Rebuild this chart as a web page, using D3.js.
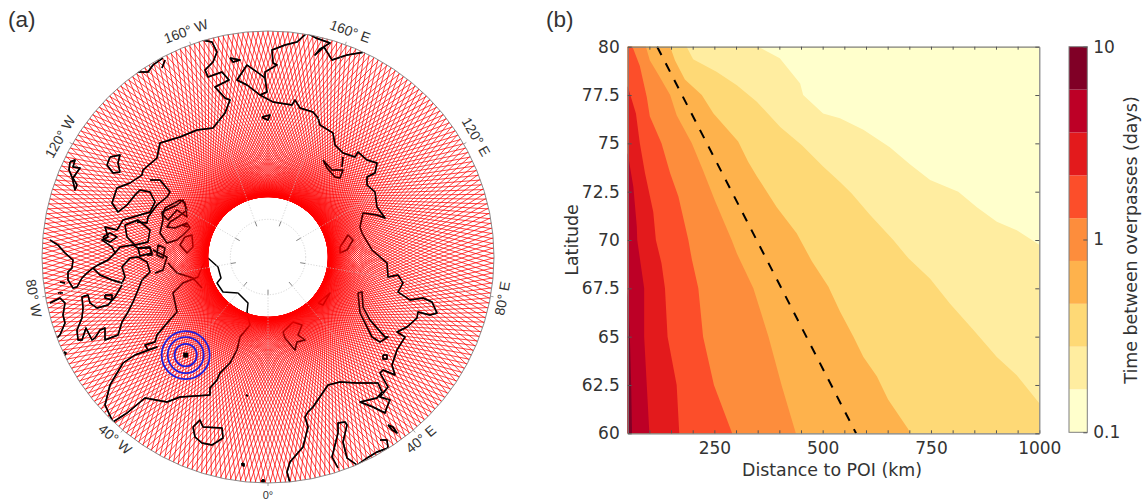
<!DOCTYPE html>
<html lang="en">
<head>
    <meta charset="utf-8" />
    <title>Overpass times</title>
    <style>
        body { margin: 0; background: #fff; }
        text { fill: #333; }
    </style>
</head>
<body>
<script src="https://d3js.org/d3.v7.min.js"></script>
<div id="chart"></div>
<script>
    // ---- panel (a) data: meridians, POI, and coastlines digitised on the polar grid
    // grid units are about 15 km, east and toward the 0 meridian measured from the pole
    const meridians = [0, 40, 80, 120, 160, -160, -120, -80, -40];
    const meridianLabels = ["0°", "40° E", "80° E", "120° E", "160° E", "160° W", "120° W", "80° W", "40° W"];
    const labelAngles = [0, -40, -80, 60, 20, -20, -60, 80, 40];
    const poi = {lon: -40, lat: 73};
    const ringKm = [165, 265, 355];
    const trackCount = 283;
    const trackLat = 82;

    const alaska = [[-66,-217],[-56,-215],[-51,-205],[-55,-195],[-63,-187],[-60,-180],[-46,-185],[-39,-177],[-53,-170],[-43,-159],[-38,-157],[-43,-144],[-55,-129],[-71,-127],[-88,-120],[-108,-114],[-111,-99],[-125,-87],[-126,-82],[-138,-74],[-151,-69],[-156,-54],[-150,-45],[-141,-52],[-133,-62],[-128,-67],[-118,-65],[-113,-55],[-118,-45],[-128,-42],[-145,-37],[-151,-27],[-163,-30],[-160,-20],[-166,-17],[-156,-10],[-153,-4],[-160,3],[-170,8],[-175,11],[-181,16],[-186,21],[-191,30],[-195,31],[-200,23],[-200,15],[-196,11],[-195,3],[-203,-4],[-210,-12],[-218,-17]];
    const hudson = [[-175,11],[-168,18],[-156,23],[-146,26],[-143,20],[-146,10],[-138,1],[-130,0],[-121,5],[-118,15],[-126,23],[-130,33],[-135,45],[-140,55],[-146,65],[-150,78],[-163,83],[-163,71],[-168,73],[-173,81],[-176,83],[-182,71],[-186,83],[-190,83],[-191,73],[-186,61],[-185,51],[-186,40],[-180,38],[-178,46],[-171,51],[-160,48],[-153,40],[-146,28]];
    const labrador = [[-218,46],[-208,41],[-203,46],[-205,58],[-203,66],[-208,78],[-211,81]];
    const baffin = [[-153,-4],[-148,-10],[-135,-12],[-130,-9],[-118,-10],[-116,-2],[-121,-2]];
    const greenland = [[-60,1],[-66,10],[-70,20],[-85,26],[-95,36],[-91,55],[-100,65],[-111,78],[-113,85],[-123,88],[-120,93],[-111,90],[-133,98],[-145,106],[-158,128],[-163,148],[-155,165],[-141,156],[-123,141],[-101,145],[-88,140],[-58,138],[-58,131],[-51,123],[-48,116],[-38,106],[-31,93],[-28,80],[-18,68],[-21,55],[-20,46],[-30,36],[-45,35],[-51,26],[-47,21],[-50,10],[-60,1]];
    const iceland = [[-75,170],[-68,163],[-65,170],[-46,171],[-45,181],[-56,188],[-66,186],[-73,180],[-75,170]];
    const chukotka = [[39,-224],[29,-215],[17,-212],[4,-207],[5,-194],[9,-192],[-3,-185],[-3,-179],[-1,-165],[-8,-162],[-21,-172],[-31,-177],[-21,-192],[-11,-185],[-3,-179]];
    const siberia = [[-8,-162],[5,-155],[24,-152],[27,-157],[32,-149],[45,-145],[50,-139],[52,-132],[65,-124],[67,-112],[75,-104],[87,-100],[90,-105],[99,-97],[109,-94],[107,-84],[99,-80],[99,-72],[107,-65],[109,-50],[117,-39],[109,-42],[95,-44],[92,-30],[94,-24],[104,-7],[119,6],[120,20],[130,18],[135,26],[130,35],[142,43],[155,41],[164,45],[169,56],[162,58],[150,55],[149,61],[139,70],[129,75],[137,80],[129,93],[124,108],[127,118],[115,113],[112,116],[120,130],[112,140],[122,143],[119,150],[117,156],[105,150],[92,145],[109,141],[114,135],[110,126],[89,126],[72,125],[60,128],[45,150],[40,155],[37,160],[40,170],[35,190],[22,205],[19,215],[22,226]];
    const baltic = [[70,211],[64,200],[70,176],[70,166],[77,165],[79,168],[75,185],[79,201],[89,208],[99,201],[109,195],[120,191],[119,183],[112,183]];
    const kamchatkaTip = [[39,-224],[48,-219],[62,-214],[52,-208],[47,-202],[56,-210],[64,-197],[79,-202],[97,-205]];
    const islands = [
        [[120,168],[125,170],[129,176],[124,173],[120,168]],
        [[115,98],[119,98],[119,102],[115,102],[115,98]],
        [[90,36],[94,35],[95,50],[102,63],[117,80],[120,80],[112,85],[104,80],[92,56],[90,36]],
        [[15,75],[25,65],[34,68],[30,78],[37,83],[29,85],[27,93],[17,81],[15,75]],
        [[50,46],[62,36],[55,48],[50,46]],
        [[55,-97],[64,-87],[75,-87],[72,-79],[67,-80],[59,-89],[55,-97]],
        [[75,-100],[74,-90]],
        [[72,-10],[80,-22],[85,-17],[79,-7],[72,-4],[72,-10]],
        [[-38,-199],[-28,-197],[-35,-195],[-38,-199]],
        [[-6,-140],[2,-142],[0,-137],[-5,-139],[-6,-140]],
        [[-198,-95],[-193,-97],[-195,-90],[-188,-89],[-195,-79],[-191,-72],[-193,-67],[-196,-80],[-199,-87],[-198,-95]],
        [[-158,-100],[-148,-102],[-150,-94],[-148,-85],[-155,-84],[-161,-92],[-158,-100]],
        [[-118,-77],[-108,-77],[-98,-65],[-101,-60],[-111,-52],[-120,-40],[-121,-34],[-131,-35]],
        [[-143,-32],[-130,-37],[-118,-27],[-120,-15],[-133,-12],[-141,-20],[-143,-32]],
        [[-130,-9],[-118,-9],[-116,-4],[-128,-1],[-130,-9]],
        [[-106,-45],[-91,-52],[-85,-57],[-81,-47],[-90,-40],[-98,-35],[-101,-30],[-93,-29],[-81,-34],[-78,-29],[-85,-22],[-91,-17],[-101,-14],[-108,-24],[-105,-37],[-106,-45]],
        [[-103,-49],[-88,-57],[-83,-54],[-81,-40],[-91,-47],[-100,-37],[-105,-42],[-103,-49]],
        [[-86,-32],[-80,-30]],
        [[-83,-20],[-76,-22],[-75,-10],[-81,-4],[-88,-12],[-83,-20]],
        [[-110,-12],[-103,-9],[-105,1],[-111,-2],[-110,-12]],
        [[-115,-7],[-101,0],[-105,13],[-113,16]],
        [[-100,6],[-91,16],[-75,21],[-66,31]],
        [[-165,-20],[-158,-24],[-151,-20],[-158,-15],[-163,-17],[-165,-20]],
        [[-163,38],[-156,38],[-156,43],[-163,41],[-163,38]],
        [[-208,25],[-203,26]],
        [[-210,36],[-205,36]],
        [[-131,-185],[-120,-185],[-115,-192],[-105,-199]],
        [[-106,-189],[-103,-197]],
        [[-26,206],[-24,207],[-24,209],[-26,208],[-26,206]],
        [[-6,223],[-4,223],[-4,225],[-6,225],[-6,223]],
        [[-204,95],[-202,96],[-203,98],[-204,95]],
        [[-22,138],[-20,139]]
    ];
    const coasts = [alaska, hudson, labrador, baffin, greenland, iceland, chukotka, siberia, baltic, kamchatkaTip, ...islands];

    // ---- panel (b) data: contour levels and where each one runs, [distance km, latitude]
    const levels = [0.1, 0.167, 0.278, 0.464, 0.774, 1.29, 2.15, 3.59, 5.99, 10];
    const contour167 = [[351,80],[401,79.4],[448,78.1],[455,77.5],[501,76.55],[540,76.3],[594,75.7],[655,74.8],[702,73.9],[748,73.1],[813,72.5],[856,71.7],[902,70.95],[948,70.5],[1000,69.75]];
    const contour278 = [[186,80],[201,79.35],[255,78.7],[302,78],[348,77.15],[402,75.85],[452,74.9],[501,73.8],[540,73],[567,72.4],[609,71.3],[663,70],[698,69.05],[748,68],[794,66.7],[848,65.35],[902,63.95],[948,63],[1000,61.55]];
    const contour464 = [[148,80],[159,79.3],[182,78.3],[221,77.5],[248,76.55],[305,75.1],[328,74.05],[348,73.3],[394,71.7],[440,70.35],[475,68.9],[513,67.6],[540,66.3],[571,65],[594,63.95],[625,62.95],[651,61.75],[698,60.2],[702,60]];
    const contour774 = [[92,80],[101,79.3],[121,78.55],[148,77.5],[163,76.45],[198,75],[224,73.6],[251,72.05],[271,71],[290,70],[302,69.3],[340,67.5],[375,65],[405,62.5],[438,60]];
    const contour129 = [[61,80],[78,79],[94,77.4],[101,76.4],[128,75],[148,73.45],[167,72.25],[190,70],[198,69],[213,67.5],[224,65],[249,62.5],[291,60]];
    const contour215 = [[50,77.95],[69,76.55],[78,75],[90,73.45],[109,71.45],[115,70],[128,68.8],[136,67.5],[142,65],[163,62.5],[169,60]];
    const contour359 = [[50,74.5],[63,72.75],[71,70.7],[72,70],[88,67.5],[88,65],[94,62.5],[100,60]];
    const contour599 = [[50,67.4],[55,65],[58,62.5],[60,60]];
    const contours = [contour167, contour278, contour464, contour774, contour129, contour215, contour359, contour599];
    const dashedLine = [[118,80],[577,60]];
    const distTicks = [100,150,200,250,300,350,400,450,500,550,600,650,700,750,800,850,900,950];
    const distLabels = [250, 500, 750, 1000];
    const latTicks = [60, 62.5, 65, 67.5, 70, 72.5, 75, 77.5, 80];
    const barTicks = [0.1, 1, 10];

    const svg = d3.select("#chart").append("svg")
        .attr("width", 1143)
        .attr("height", 504)
        .style("display", "block");

    const bandColors = d3.schemeYlOrRd[9];

    svg.append("text").attr("x", 8).attr("y", 27).style("font", "22.5px 'Liberation Sans'").text("(a)");
    svg.append("text").attr("x", 546).attr("y", 27).style("font", "22.5px 'Liberation Sans'").text("(b)");

    // ---------- panel (a)
    const mapX = d3.scaleLinear().domain([-226, 226]).range([42, 494]);
    const mapY = d3.scaleLinear().domain([-226, 226]).range([31, 483]);
    const radius = d3.scaleLinear().domain([90, 60]).range([0, 226]);
    const rad = d => d * Math.PI / 180;
    const polar = (lon, r) => [mapX(r * Math.sin(rad(lon))), mapY(r * Math.cos(rad(lon)))];

    svg.append("clipPath").attr("id", "rim").append("circle")
        .attr("cx", mapX(0)).attr("cy", mapY(0)).attr("r", 226);

    // the coast stays sharp on the open mesh and sinks into the solid red near the hole
    const fade = svg.append("radialGradient")
        .attr("id", "coastFade")
        .attr("gradientUnits", "userSpaceOnUse")
        .attr("cx", mapX(0)).attr("cy", mapY(0)).attr("r", 226);
    fade.append("stop").attr("offset", 0.3).attr("stop-color", "#000");
    fade.append("stop").attr("offset", 0.55).attr("stop-color", "#fff");
    svg.append("mask")
        .attr("id", "coastMask")
        .attr("maskUnits", "userSpaceOnUse")
        .attr("x", 0).attr("y", 0).attr("width", 540).attr("height", 504)
        .append("rect")
        .attr("width", 540).attr("height", 504)
        .attr("fill", "url(#coastFade)");

    const map = svg.append("g").attr("clip-path", "url(#rim)");

    const coastLine = d3.line().x(d => mapX(d[0])).y(d => mapY(d[1]));
    const drawCoast = (g, width) => g.selectAll(".coast")
        .data(coasts)
        .join("path")
        .attr("class", "coast")
        .attr("d", coastLine)
        .attr("fill", "none")
        .attr("stroke", "#000")
        .attr("stroke-width", width)
        .attr("stroke-linejoin", "round");
    drawCoast(map.append("g"), 1.5);

    // overpass tracks, each one touching the orbit's highest latitude
    const tangent = radius(trackLat);
    const reach = Math.sqrt(226 * 226 - tangent * tangent) + 4;
    const trackPath = d3.path();
    d3.range(trackCount).forEach(i => {
        const a = 360 * i / trackCount;
        const [tx, ty] = [tangent * Math.sin(rad(a)), tangent * Math.cos(rad(a))];
        const [ux, uy] = [Math.cos(rad(a)), -Math.sin(rad(a))];
        trackPath.moveTo(mapX(tx - reach * ux), mapY(ty - reach * uy));
        trackPath.lineTo(mapX(tx + reach * ux), mapY(ty + reach * uy));
    });
    map.append("path")
        .attr("d", trackPath.toString())
        .attr("fill", "none")
        .attr("stroke", "#ff0000")
        .attr("stroke-width", 0.75);

    drawCoast(map.append("g").attr("mask", "url(#coastMask)"), 1.4);

    // graticule
    map.selectAll(".spoke")
        .data(meridians)
        .join("line")
        .attr("class", "spoke")
        .attr("x1", d => polar(d, radius(85))[0])
        .attr("y1", d => polar(d, radius(85))[1])
        .attr("x2", d => polar(d, radius(60))[0])
        .attr("y2", d => polar(d, radius(60))[1])
        .attr("stroke", "#c4c4c4")
        .attr("stroke-width", 0.7)
        .attr("stroke-dasharray", "1.2,1.6");
    svg.append("circle")
        .attr("cx", mapX(0)).attr("cy", mapY(0)).attr("r", radius(85))
        .attr("fill", "none")
        .attr("stroke", "#c4c4c4")
        .attr("stroke-width", 0.7)
        .attr("stroke-dasharray", "1.2,1.6");
    svg.selectAll(".innerTick")
        .data(meridians)
        .join("line")
        .attr("class", "innerTick")
        .attr("x1", d => polar(d, radius(85))[0])
        .attr("y1", d => polar(d, radius(85))[1])
        .attr("x2", d => polar(d, radius(85) - 5)[0])
        .attr("y2", d => polar(d, radius(85) - 5)[1])
        .attr("stroke", "#777")
        .attr("stroke-width", 0.9);
    svg.append("circle")
        .attr("cx", mapX(0)).attr("cy", mapY(0)).attr("r", 226)
        .attr("fill", "none")
        .attr("stroke", "#8c8c8c")
        .attr("stroke-width", 1);
    svg.selectAll(".rimTick")
        .data(meridians)
        .join("line")
        .attr("class", "rimTick")
        .attr("x1", d => polar(d, 226)[0])
        .attr("y1", d => polar(d, 226)[1])
        .attr("x2", d => polar(d, 229)[0])
        .attr("y2", d => polar(d, 229)[1])
        .attr("stroke", "#8c8c8c")
        .attr("stroke-width", 0.8);

    svg.selectAll(".lonLabel")
        .data(meridians)
        .join("text")
        .attr("class", "lonLabel")
        .attr("text-anchor", "middle")
        .attr("dominant-baseline", "middle")
        .attr("transform", (d, i) => `translate(${polar(d, 239)}) rotate(${labelAngles[i]})`)
        .style("font", (d, i) => i === 0 ? "11px 'Liberation Sans'" : "14px 'Liberation Sans'")
        .text((d, i) => meridianLabels[i]);

    // point of interest and its rings
    const poiXY = polar(poi.lon, radius(poi.lat));
    const kmToGrid = 226 / (30 * 111.2);
    svg.selectAll(".ring")
        .data(ringKm)
        .join("circle")
        .attr("class", "ring")
        .attr("cx", poiXY[0])
        .attr("cy", poiXY[1])
        .attr("r", d => mapX(d * kmToGrid) - mapX(0))
        .attr("fill", "none")
        .attr("stroke", "#2020dc")
        .attr("stroke-width", 1.8);
    svg.append("rect")
        .attr("x", poiXY[0] - 2.5).attr("y", poiXY[1] - 2.5)
        .attr("width", 5).attr("height", 5)
        .attr("fill", "#000");

    // ---------- panel (b)
    const x = d3.scaleLinear().domain([50, 1000]).range([627.7, 1039.3]);
    const y = d3.scaleLinear().domain([60, 80]).range([433.3, 46.7]);
    const plotLine = d3.line().x(d => x(d[0])).y(d => y(d[1]));

    svg.append("rect")
        .attr("x", x(50)).attr("y", y(80))
        .attr("width", x(1000) - x(50)).attr("height", y(60) - y(80))
        .attr("fill", bandColors[0]);

    svg.selectAll(".band")
        .data(contours)
        .join("path")
        .attr("class", "band")
        .attr("fill", (d, i) => bandColors[i + 1])
        .attr("d", d => {
            const closing = [];
            if (d[d.length - 1][0] === 1000) closing.push([1000, 60]);
            closing.push([50, 60]);
            if (d[0][0] > 50) closing.push([50, 80]);
            return plotLine(d.concat(closing)) + "Z";
        });

    svg.append("path")
        .attr("d", plotLine(dashedLine))
        .attr("fill", "none")
        .attr("stroke", "#000")
        .attr("stroke-width", 2)
        .attr("stroke-dasharray", "9.3,9.4");

    const axisStyle = g => {
        g.selectAll(".domain").attr("stroke", "#7f7f7f").attr("stroke-width", 1.2);
        g.selectAll(".tick line").attr("stroke", "#555");
        g.selectAll("text")
            .style("font", "17px 'DejaVu Sans'")
            .attr("fill", "#333");
    };
    svg.append("g")
        .attr("transform", `translate(0,${y(60)})`)
        .call(d3.axisBottom(x).tickValues(distTicks.concat([1000])).tickSize(-3).tickSizeOuter(0)
            .tickPadding(9)
            .tickFormat(d => distLabels.includes(d) ? d : ""))
        .call(axisStyle);
    svg.append("g")
        .attr("transform", `translate(0,${y(80)})`)
        .call(d3.axisTop(x).tickValues(distTicks).tickSize(-3).tickSizeOuter(0).tickFormat(""))
        .call(axisStyle);
    svg.append("g")
        .attr("transform", `translate(${x(50)},0)`)
        .call(d3.axisLeft(y).tickValues(latTicks).tickSize(-4).tickSizeOuter(0).tickPadding(8).tickFormat(d => d))
        .call(axisStyle);
    svg.append("g")
        .attr("transform", `translate(${x(1000)},0)`)
        .call(d3.axisRight(y).tickValues(latTicks).tickSize(-4).tickSizeOuter(0).tickFormat(""))
        .call(axisStyle);

    svg.append("text")
        .attr("x", 832).attr("y", 476)
        .attr("text-anchor", "middle")
        .style("font", "17.4px 'DejaVu Sans'")
        .text("Distance to POI (km)");
    svg.append("text")
        .attr("transform", "translate(578,240) rotate(-90)")
        .attr("text-anchor", "middle")
        .style("font", "17.4px 'DejaVu Sans'")
        .text("Latitude");

    // colour bar
    const barY = d3.scaleLog().domain([0.1, 10]).range([432.3, 46.7]);
    svg.selectAll(".barBand")
        .data(bandColors)
        .join("rect")
        .attr("class", "barBand")
        .attr("x", 1069)
        .attr("width", 18.3)
        .attr("y", (d, i) => barY(levels[i + 1]))
        .attr("height", (d, i) => barY(levels[i]) - barY(levels[i + 1]))
        .attr("fill", d => d);
    svg.append("rect")
        .attr("x", 1069).attr("y", barY(10))
        .attr("width", 18.3).attr("height", barY(0.1) - barY(10))
        .attr("fill", "none")
        .attr("stroke", "#7f7f7f")
        .attr("stroke-width", 1);
    svg.append("g")
        .attr("transform", "translate(1087.3,0)")
        .call(d3.axisRight(barY).tickValues(barTicks).tickSize(-4).tickPadding(6).tickFormat(d => d))
        .call(g => g.select(".domain").remove())
        .call(g => g.selectAll(".tick line").attr("stroke", "#555"))
        .call(g => g.selectAll("text").style("font", "17px 'DejaVu Sans'").attr("fill", "#333"));
    svg.append("text")
        .attr("transform", "translate(1137,240) rotate(-90)")
        .attr("text-anchor", "middle")
        .style("font", "17.4px 'DejaVu Sans'")
        .text("Time between overpasses (days)");
</script>
</body>
</html>
